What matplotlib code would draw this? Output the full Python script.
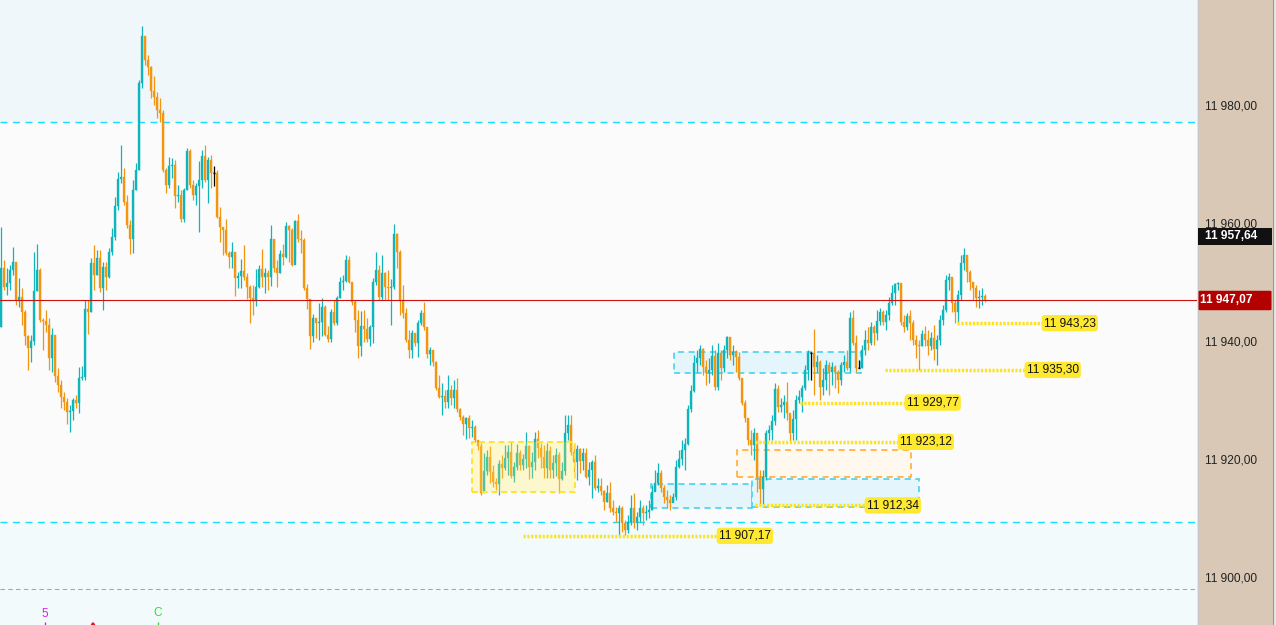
import numpy as np
import matplotlib
matplotlib.use("Agg")
import matplotlib.pyplot as plt
from matplotlib.patches import Rectangle, FancyBboxPatch

plt.rcParams["font.family"] = ["Liberation Sans", "DejaVu Sans"]

# -----------------------
# Datos (velas de 1 min, precio)
# -----------------------
first_open = 11942.6

closes = [
    11952.5, 11949.3, 11950.0, 11952.2, 11953.6, 11947.2, 11947.7, 11945.2, 11941.1, 11939.0,
    11940.2, 11948.7, 11952.2, 11943.8, 11943.6, 11942.9, 11937.3, 11941.3, 11934.3, 11932.8,
    11930.7, 11929.9, 11928.2, 11928.3, 11930.2, 11929.7, 11933.9, 11934.1, 11945.6, 11945.2,
    11953.4, 11951.4, 11954.3, 11949.2, 11952.7, 11951.0, 11955.3, 11957.8, 11963.1, 11967.7,
    11968.0, 11963.8, 11959.9, 11957.5, 11965.8, 11969.2, 11983.9, 11991.9, 11987.8, 11986.6,
    11982.6, 11981.6, 11979.4, 11978.8, 11969.2, 11966.7, 11969.9, 11970.0, 11964.8, 11964.9,
    11960.9, 11965.8, 11972.4, 11966.7, 11964.9, 11966.5, 11967.5, 11971.6, 11967.5, 11970.9,
    11968.7, 11968.7, 11961.2, 11959.5, 11959.0, 11955.1, 11954.4, 11955.3, 11950.9, 11951.2,
    11952.1, 11951.0, 11949.3, 11947.5, 11947.0, 11949.3, 11952.4, 11951.0, 11951.7, 11951.0,
    11957.5, 11952.5, 11951.7, 11955.0, 11954.4, 11959.7, 11959.0, 11953.1, 11960.5, 11957.5,
    11957.3, 11949.2, 11947.3, 11941.1, 11944.1, 11943.3, 11943.4, 11946.0, 11941.3, 11940.5,
    11945.2, 11943.3, 11947.5, 11950.2, 11950.3, 11953.9, 11950.2, 11946.8, 11943.8, 11939.4,
    11942.8, 11942.2, 11940.5, 11942.6, 11950.2, 11952.2, 11947.7, 11951.7, 11949.3, 11949.2,
    11949.3, 11958.3, 11955.3, 11947.2, 11945.0, 11940.4, 11938.7, 11941.6, 11939.9, 11943.3,
    11945.0, 11942.6, 11938.0, 11938.7, 11936.6, 11932.2, 11930.7, 11930.9, 11929.9, 11931.9,
    11930.5, 11931.9, 11928.7, 11927.3, 11926.1, 11927.2, 11925.5, 11925.6, 11923.4, 11922.4,
    11914.4, 11918.2, 11920.5, 11918.0, 11916.3, 11916.0, 11919.4, 11918.7, 11920.4, 11921.4,
    11917.3, 11918.8, 11921.2, 11919.2, 11920.2, 11922.4, 11918.8, 11919.7, 11923.6, 11922.1,
    11920.5, 11918.7, 11921.6, 11918.3, 11919.5, 11920.9, 11916.8, 11918.2, 11924.6, 11925.9,
    11921.4, 11919.7, 11921.9, 11919.9, 11921.2, 11917.1, 11918.3, 11919.7, 11915.3, 11915.6,
    11914.8, 11912.9, 11914.4, 11911.9, 11911.2, 11911.0, 11911.9, 11909.4, 11908.2, 11909.6,
    11911.9, 11909.4, 11910.4, 11911.9, 11911.0, 11911.2, 11911.6, 11914.6, 11916.1, 11917.8,
    11915.3, 11913.8, 11913.3, 11912.7, 11913.8, 11918.8, 11920.2, 11921.7, 11922.7, 11928.7,
    11931.7, 11936.5, 11937.3, 11938.8, 11935.8, 11934.8, 11935.3, 11937.7, 11932.4, 11938.2,
    11935.6, 11938.7, 11940.9, 11937.8, 11938.3, 11937.5, 11933.9, 11929.7, 11927.2, 11923.4,
    11922.6, 11924.6, 11917.0, 11915.1, 11917.1, 11924.6, 11925.1, 11926.6, 11932.1, 11929.0,
    11929.4, 11929.9, 11928.0, 11924.6, 11927.0, 11930.2, 11930.7, 11932.2, 11935.3, 11938.2,
    11938.2, 11935.8, 11936.6, 11932.4, 11933.6, 11936.1, 11934.9, 11935.8, 11934.9, 11933.6,
    11936.1, 11936.6, 11935.6, 11944.1, 11939.9, 11935.6, 11935.6, 11938.7, 11940.4, 11939.9,
    11942.6, 11941.6, 11943.6, 11945.2, 11943.4, 11944.6, 11946.6, 11948.3, 11949.9, 11950.0,
    11943.4, 11942.6, 11944.4, 11943.3, 11940.4, 11939.5, 11939.4, 11941.4, 11940.4, 11939.4,
    11940.7, 11938.8, 11940.4, 11943.8, 11945.5, 11950.5, 11951.0, 11946.6, 11945.2, 11948.0,
    11953.4, 11954.8, 11951.9, 11950.2, 11949.2, 11947.5, 11947.7, 11947.8, 11947.07,
]

highs = [
    11959.5, 11953.9, 11952.5, 11953.1, 11956.1, 11953.6, 11950.9, 11949.2, 11945.5, 11941.3,
    11941.3, 11955.3, 11956.6, 11952.5, 11944.1, 11945.5, 11944.1, 11942.4, 11941.3, 11935.6,
    11933.6, 11931.6, 11930.5, 11929.4, 11930.5, 11931.1, 11935.8, 11936.0, 11947.2, 11947.2,
    11954.3, 11956.5, 11955.6, 11955.6, 11953.6, 11953.6, 11955.9, 11959.3, 11964.6, 11968.8,
    11973.4, 11969.5, 11964.9, 11960.7, 11967.5, 11970.4, 11984.4, 11993.6, 11991.9, 11988.7,
    11986.8, 11985.1, 11982.4, 11981.4, 11979.4, 11969.5, 11971.4, 11971.2, 11970.9, 11966.7,
    11965.8, 11966.1, 11972.9, 11972.7, 11967.5, 11967.0, 11970.7, 11972.6, 11973.4, 11971.4,
    11971.7, 11969.9, 11969.2, 11962.9, 11959.5, 11960.9, 11955.5, 11957.0, 11955.3, 11951.9,
    11954.1, 11956.5, 11951.7, 11949.7, 11949.7, 11952.4, 11953.1, 11955.8, 11952.5, 11952.2,
    11959.9, 11957.5, 11953.9, 11955.6, 11956.6, 11960.4, 11959.9, 11959.3, 11960.7, 11961.7,
    11959.0, 11957.7, 11949.9, 11947.3, 11944.8, 11944.1, 11946.6, 11947.5, 11946.3, 11942.7,
    11945.6, 11947.2, 11947.8, 11951.0, 11951.4, 11954.8, 11954.6, 11950.2, 11947.2, 11945.5,
    11945.3, 11945.5, 11944.1, 11942.9, 11950.9, 11955.3, 11953.1, 11954.8, 11951.9, 11952.2,
    11950.7, 11960.0, 11958.5, 11955.6, 11949.7, 11945.8, 11942.1, 11942.1, 11941.6, 11943.8,
    11945.5, 11946.8, 11942.6, 11939.2, 11938.7, 11936.8, 11934.4, 11933.1, 11931.9, 11934.4,
    11932.7, 11933.6, 11933.9, 11928.8, 11927.7, 11927.3, 11927.7, 11926.8, 11925.9, 11923.4,
    11922.9, 11921.2, 11921.7, 11922.4, 11919.2, 11917.0, 11920.0, 11920.9, 11922.6, 11922.6,
    11923.1, 11919.7, 11922.8, 11921.7, 11921.0, 11924.8, 11922.6, 11921.4, 11924.8, 11925.1,
    11922.9, 11922.6, 11922.9, 11922.4, 11920.9, 11922.1, 11921.4, 11919.7, 11927.7, 11927.7,
    11927.7, 11922.6, 11922.6, 11922.1, 11922.1, 11922.1, 11919.7, 11920.0, 11920.9, 11917.0,
    11917.0, 11915.0, 11915.8, 11916.3, 11913.3, 11912.1, 11912.4, 11912.3, 11909.9, 11910.7,
    11914.1, 11914.4, 11911.2, 11913.3, 11912.4, 11912.4, 11913.3, 11915.8, 11918.3, 11919.5,
    11918.3, 11915.8, 11915.0, 11914.1, 11914.4, 11920.0, 11921.7, 11923.4, 11923.8, 11929.4,
    11932.8, 11937.8, 11938.7, 11939.5, 11939.0, 11937.0, 11937.3, 11939.5, 11938.7, 11939.9,
    11938.7, 11939.5, 11941.1, 11940.9, 11939.5, 11938.7, 11938.3, 11933.9, 11930.2, 11927.2,
    11925.1, 11925.4, 11924.6, 11918.3, 11918.3, 11925.1, 11925.9, 11927.7, 11933.1, 11932.8,
    11930.5, 11931.1, 11933.3, 11927.7, 11928.5, 11931.1, 11931.9, 11932.8, 11936.1, 11938.7,
    11938.3, 11942.2, 11937.8, 11937.0, 11935.6, 11937.0, 11936.6, 11936.6, 11936.1, 11935.3,
    11936.6, 11937.8, 11938.7, 11945.1, 11945.5, 11941.3, 11937.0, 11939.5, 11942.1, 11942.6,
    11943.4, 11942.9, 11945.5, 11945.8, 11945.5, 11945.5, 11947.7, 11949.7, 11950.0, 11950.2,
    11950.0, 11944.6, 11945.0, 11945.5, 11943.8, 11941.3, 11940.4, 11942.1, 11942.7, 11942.1,
    11941.7, 11942.9, 11941.3, 11944.6, 11946.3, 11951.4, 11951.7, 11950.9, 11947.2, 11948.8,
    11954.8, 11955.9, 11954.8, 11952.2, 11950.2, 11949.7, 11948.8, 11949.2, 11948.2,
]

lows = [
    11942.6, 11948.8, 11948.0, 11948.8, 11951.4, 11946.3, 11946.0, 11942.9, 11939.5, 11935.3,
    11936.6, 11939.5, 11948.7, 11943.4, 11938.7, 11941.7, 11935.3, 11935.0, 11933.3, 11931.6,
    11928.8, 11928.5, 11926.1, 11924.8, 11926.8, 11928.8, 11928.0, 11933.6, 11933.6, 11941.4,
    11945.2, 11948.8, 11951.4, 11948.5, 11945.5, 11948.8, 11950.9, 11954.8, 11957.3, 11962.4,
    11967.0, 11963.3, 11959.3, 11954.9, 11955.1, 11965.8, 11969.2, 11983.1, 11987.0, 11985.3,
    11981.4, 11980.2, 11978.0, 11977.3, 11968.8, 11965.3, 11966.1, 11967.8, 11962.7, 11963.8,
    11960.4, 11960.4, 11965.8, 11966.1, 11964.1, 11963.3, 11958.7, 11966.1, 11967.2, 11963.6,
    11966.1, 11966.5, 11961.1, 11957.0, 11954.8, 11954.8, 11952.5, 11952.5, 11947.8, 11949.2,
    11949.2, 11950.5, 11947.3, 11943.3, 11944.6, 11946.1, 11949.2, 11949.3, 11948.3, 11948.8,
    11949.5, 11951.9, 11949.3, 11951.7, 11953.1, 11954.3, 11953.6, 11952.9, 11954.4, 11957.0,
    11955.1, 11948.8, 11945.6, 11938.8, 11940.0, 11940.7, 11940.4, 11941.1, 11941.1, 11940.0,
    11940.0, 11942.9, 11942.9, 11947.5, 11948.8, 11950.2, 11950.0, 11946.3, 11941.7, 11937.3,
    11937.7, 11940.0, 11940.0, 11939.4, 11939.9, 11949.7, 11947.2, 11947.2, 11947.2, 11947.2,
    11942.9, 11949.0, 11952.5, 11944.6, 11944.1, 11940.0, 11937.3, 11937.3, 11939.4, 11937.5,
    11942.9, 11942.1, 11937.3, 11936.1, 11935.9, 11931.9, 11930.5, 11927.7, 11928.8, 11928.8,
    11929.4, 11928.8, 11928.2, 11926.8, 11924.3, 11923.6, 11923.8, 11923.9, 11923.1, 11921.7,
    11914.1, 11914.6, 11917.5, 11916.1, 11915.5, 11915.0, 11914.1, 11917.0, 11918.3, 11917.5,
    11917.0, 11916.3, 11918.3, 11918.3, 11918.3, 11918.7, 11916.8, 11917.0, 11918.3, 11920.4,
    11918.7, 11917.0, 11917.0, 11917.0, 11917.0, 11917.3, 11914.4, 11916.6, 11917.5, 11923.4,
    11920.9, 11918.0, 11916.6, 11917.8, 11918.3, 11917.0, 11915.8, 11913.6, 11915.0, 11914.6,
    11914.1, 11911.6, 11913.0, 11911.2, 11910.7, 11909.5, 11907.17, 11907.9, 11907.3, 11907.7,
    11909.0, 11908.5, 11908.2, 11909.5, 11909.0, 11909.9, 11910.2, 11911.6, 11915.0, 11915.8,
    11914.6, 11912.7, 11911.9, 11911.6, 11913.0, 11913.3, 11918.7, 11919.2, 11918.3, 11922.6,
    11928.2, 11931.6, 11935.0, 11936.1, 11934.4, 11932.8, 11933.1, 11934.4, 11931.9, 11931.9,
    11933.6, 11935.0, 11937.3, 11937.0, 11936.1, 11935.0, 11933.6, 11929.4, 11926.5, 11922.6,
    11920.9, 11920.0, 11914.6, 11912.4, 11912.34, 11916.6, 11923.4, 11923.4, 11925.9, 11928.2,
    11928.2, 11927.2, 11926.8, 11923.1, 11923.4, 11923.4, 11929.77, 11928.2, 11931.9, 11933.6,
    11933.6, 11931.1, 11935.0, 11930.2, 11931.1, 11931.9, 11931.1, 11932.8, 11932.2, 11931.4,
    11932.8, 11935.0, 11935.3, 11935.0, 11939.5, 11935.0, 11935.6, 11935.6, 11937.8, 11938.7,
    11939.5, 11939.5, 11940.4, 11942.9, 11942.9, 11942.1, 11943.8, 11946.3, 11946.3, 11948.8,
    11942.9, 11941.7, 11942.1, 11940.4, 11939.5, 11937.3, 11935.3, 11939.4, 11939.4, 11937.8,
    11938.7, 11937.0, 11936.1, 11939.5, 11942.9, 11945.2, 11948.8, 11945.2, 11943.23, 11943.4,
    11947.2, 11952.2, 11950.2, 11948.8, 11947.2, 11946.0, 11945.8, 11946.3, 11946.8,
]

# Niveles marcados (precio, vela inicio, vela fin)
level_prices = [11943.23, 11935.30, 11929.77, 11923.12, 11912.34, 11907.17]
level_start = [318.7, 294.7, 266.3, 251.3, 251.3, 174.0]
level_end = [347.0, 341.3, 301.3, 299.0, 288.0, 238.7]

axis_ticks = [11980, 11960, 11940, 11920, 11900]
last_price = 11947.07
day_high = 11957.64
session_hi = 11977.3
session_lo = 11909.6
lower_guide = 11898.2

# Zonas: (vela inicio, vela fin, precio bajo, precio alto)
zone_yellow = (157.0, 191.3, 11914.6, 11923.1)
zones_cyan = [(224.3, 286.7, 11934.7, 11938.3),
              (216.7, 250.3, 11911.9, 11916.0),
              (250.3, 306.0, 11912.1, 11916.8)]
zone_orange = (245.3, 303.3, 11917.1, 11921.7)

TEAL = "#10B4BB"
ORANGE = "#F29611"
YMIN, YMAX = 11892.07, 11998.0


def fmt(v):
    return f"{v:,.2f}".replace(",", " ").replace(".", ",")


closes = np.array(closes)
highs = np.array(highs)
lows = np.array(lows)
opens = np.concatenate([[first_open], closes[:-1]])
x = np.arange(len(closes))

fig = plt.figure(figsize=(12.76, 6.25), dpi=100, facecolor="#E6E6E6")
ax = fig.add_axes([0, 0, 1197 / 1276, 1])
ax.set_xlim(-0.333, 398.67)
ax.set_ylim(YMIN, YMAX)
ax.axis("off")

# Fondos de sesion
ax.axhspan(session_hi, YMAX, color="#EFF7FA", zorder=0)
ax.axhspan(session_lo, session_hi, color="#FBFBFB", zorder=0)
ax.axhspan(YMIN, session_lo, color="#F2FAFC", zorder=0)
ax.axhline(session_hi, color="#14DFFF", lw=1, ls=(0, (5, 4)), zorder=1)
ax.axhline(session_lo, color="#14DFFF", lw=1, ls=(0, (5, 4)), zorder=1)
ax.axhline(lower_guide, color="#A8A8A8", lw=0.8, ls=(0, (4, 3)), zorder=1)

# Zonas detras de las velas
for x0, x1, y0, y1 in zones_cyan:
    ax.add_patch(Rectangle((x0, y0), x1 - x0, y1 - y0, facecolor="#E4F6FC",
                           edgecolor="#3CCDEE", lw=1.1, ls=(0, (4, 3)), zorder=2))
x0, x1, y0, y1 = zone_orange
ax.add_patch(Rectangle((x0, y0), x1 - x0, y1 - y0, facecolor="#FFF8EE",
                       edgecolor="#FFA726", lw=1.1, ls=(0, (4, 3)), zorder=2))

# Velas
bull = closes > opens
doji = closes == opens
colors = np.where(doji, "black", np.where(bull, TEAL, ORANGE))
ax.vlines(x, lows, highs, colors=colors, lw=0.9, zorder=3)
ax.bar(x, closes - opens, bottom=opens, width=0.88, color=colors,
       edgecolor=colors, lw=0.25, zorder=3)
ax.hlines(closes[doji], x[doji] - 0.45, x[doji] + 0.45, colors="black", lw=1, zorder=3)

# Zona amarilla por encima (transparente)
x0, x1, y0, y1 = zone_yellow
ax.add_patch(Rectangle((x0, y0), x1 - x0, y1 - y0, facecolor=(1.0, 0.93, 0.35, 0.28),
                       edgecolor="#FFE433", lw=1.4, ls=(0, (3, 2)), zorder=4))

# Precio actual
ax.axhline(last_price, color="#CC1010", lw=0.8, zorder=5)

# Niveles punteados con etiqueta
for p, s, e in zip(level_prices, level_start, level_end):
    ax.hlines(p, s, e, colors="#FFE31A", lw=2.5, linestyles=(0, (0.65, 0.45)), zorder=5)
    ax.text(e + 0.6, p, fmt(p), ha="left", va="center", fontsize=8.6, color="#111111",
            zorder=6, bbox=dict(boxstyle="round,pad=0.18,rounding_size=0.3",
                                fc="#FFE92E", ec="none"))

# Marcas inferiores
ax.text(14.7, 11894.0, "5", color="#E020E0", fontsize=8.5, ha="center", va="center")
ax.vlines(14.7, YMIN, 11892.6, colors="#E020E0", lw=1)
ax.text(52.3, 11894.1, "C", color="#33DD33", fontsize=8.5, ha="center", va="center")
ax.vlines(52.3, YMIN, 11892.6, colors="#33DD33", lw=1)
ax.plot(30.7, 11891.5, marker="^", ms=7, mfc="none", mec="#EE1111", mew=1.6, clip_on=True)

# -----------------------
# Escala de precios (derecha)
# -----------------------
ax2 = fig.add_axes([1198 / 1276, 0, 75 / 1276, 1])
ax2.set_xlim(0, 75)
ax2.set_ylim(YMIN, YMAX)
ax2.set_facecolor("#D9C8B5")
ax2.set_xticks([])
ax2.set_yticks([])
for side in ["top", "bottom"]:
    ax2.spines[side].set_visible(False)
ax2.spines["left"].set_color("#C8C8C8")
ax2.spines["right"].set_color("#9A9A9A")

for t in axis_ticks:
    ax2.text(7, t, fmt(t), fontsize=8.6, color="#222222", ha="left", va="center")

h_black = 2.9
ax2.add_patch(Rectangle((0, day_high - h_black / 2 + 0.3), 74, h_black,
                        facecolor="#111111", edgecolor="none", zorder=3))
ax2.text(7, day_high + 0.3, fmt(day_high), fontsize=8.6, color="white",
         fontweight="bold", ha="left", va="center", zorder=4)

h_red = 3.3
ax2.add_patch(FancyBboxPatch((0.5, last_price - h_red / 2), 73, h_red,
                             boxstyle="round,pad=0,rounding_size=1.5",
                             mutation_aspect=0.1, facecolor="#B30000",
                             edgecolor="none", zorder=3))
ax2.text(2, last_price, fmt(last_price), fontsize=8.6, color="white",
         fontweight="bold", ha="left", va="center", zorder=4)

plt.savefig("out.png", dpi=100, facecolor=fig.get_facecolor())
